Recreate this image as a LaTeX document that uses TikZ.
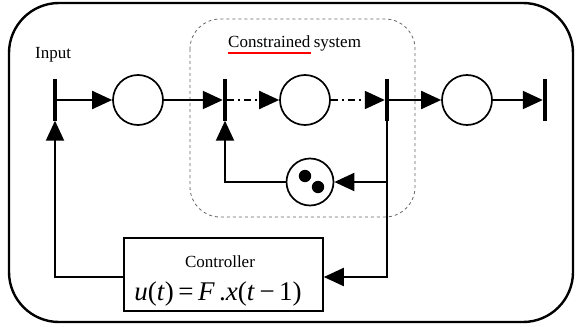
\documentclass[tikz,border=0pt]{standalone}
\usepackage{fontspec}
\setmainfont{Liberation Serif}
\usetikzlibrary{arrows.meta,positioning,calc}
\tikzset{
  gate/.style={rectangle, fill=black, inner sep=0pt,
               minimum width=4pt, minimum height=41pt},
  cell/.style={circle, draw=black, line width=1.7pt, inner sep=0pt,
               minimum size=#1},
  cell/.default=50pt,
  arr/.style={-{Triangle[length=20pt,width=18pt]}, line width=2pt},
  dashdot/.style={dash pattern=on 7pt off 4pt on 2pt off 4pt},
  lbl/.style={font=\fontsize{17}{20}\selectfont, inner sep=0pt},
}

\begin{document}
\begin{tikzpicture}[x=1pt,y=-1pt]
  \useasboundingbox (0,0) rectangle (577,326);
  % outer frame and the constrained block
  \draw[line width=2.4pt, rounded corners=50pt] (9,3) rectangle (573,322);
  \draw[black!60, dashed, line width=0.8pt, rounded corners=30pt] (190,19) rectangle (415,217);
  % labels
  \node[lbl, anchor=base west] (inp) at (35,59) {Input};
  \node[lbl, anchor=base west] (cons) at (228,48) {Constrained};
  \node[lbl, anchor=base west] (sys) at ($(cons.base east)+(3,0)$) {system};
  \draw[red, line width=1.6pt] ($(cons.base west)+(0,5)$) -- ($(cons.base east)+(0,5)$);
  % gates and cells on the main line
  \node[gate] (bar1) at (55,100) {};
  \node[gate] (bar2) at (225,100) {};
  \node[gate] (bar3) at (387,100) {};
  \node[gate] (bar4) at (545,100) {};
  \node[cell] (c1) at (138,100) {};
  \node[cell] (c2) at (305,100) {};
  \node[cell] (c3) at (467,100) {};
  \node[cell=47pt] (delay) at (310,182) {};
  \fill ($(delay)+(-5,-6)$) circle (6.2pt);
  \fill ($(delay)+(8,5)$) circle (6.2pt);
  % controller
  \node[draw, line width=1.6pt, minimum width=199pt, minimum height=73pt] (ctrl) at (223.5,274.5) {};
  \node[lbl, anchor=base] (ctitle) at (220,267) {Controller};
  \node[font=\fontsize{27}{30}\selectfont, inner sep=0pt, anchor=base] (claw) at (218,300)
    {\textit{u}(\textit{t})\,=\,\textit{F}\,.\textit{x}(\textit{t}\,−\,1)};
  % forward path
  \draw[arr] (bar1.east) -- (c1.west);
  \draw[arr] (c1.east) -- (bar2.west);
  \draw[arr, dashdot] (bar2.east) -- (c2.west);
  \draw[arr, dashdot] (c2.east) -- (bar3.west);
  \draw[arr] (bar3.east) -- (c3.west);
  \draw[arr] (c3.east) -- (bar4.west);
  % feedback paths
  \coordinate (fb) at (387,277);
  \draw[arr] (bar3.south) -- (fb) -- (fb -| ctrl.east);
  \draw[arr] (bar3.south |- delay) -- (delay.east);
  \draw[arr] (delay.west) -| (bar2.south);
  \draw[arr] (fb -| ctrl.west) -| (bar1.south);
\end{tikzpicture}
\end{document}
